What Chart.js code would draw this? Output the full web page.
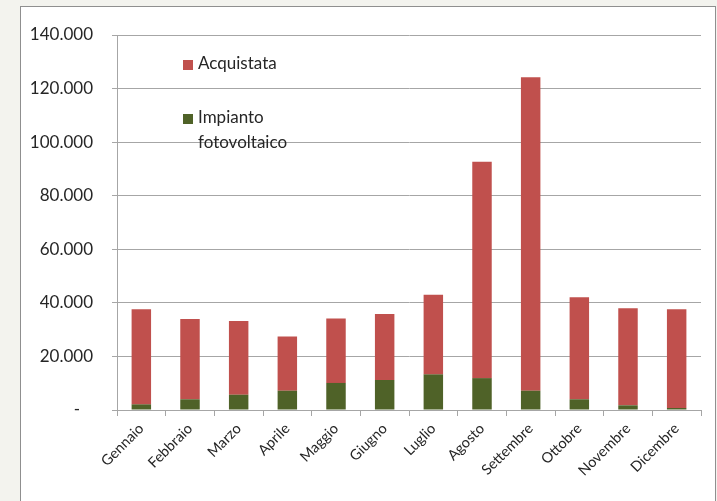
<!DOCTYPE html>
<html>
<head>
<meta charset="utf-8">
<script src="https://cdn.jsdelivr.net/npm/chart.js@4"></script>
<style>
  html, body { margin: 0; padding: 0; }
  body { width: 717px; height: 501px; background: #f3f3ee; position: relative; overflow: hidden; }
  #frame { position: absolute; left: 20px; top: 6px; width: 694px; height: 510px; background: #fff; border: 1px solid #8f8f8f; }
  #chart { position: absolute; left: 0; top: 0; }
</style>
</head>
<body>
<div id="frame"></div>
<canvas id="chart" width="717" height="501"></canvas>
<script>
const months = ['Gennaio', 'Febbraio', 'Marzo', 'Aprile', 'Maggio', 'Giugno', 'Luglio', 'Agosto', 'Settembre', 'Ottobre', 'Novembre', 'Dicembre'];
const fotovoltaico = [2100, 4000, 5700, 7200, 10100, 11200, 13300, 11900, 7200, 4000, 1750, 750];
const acquistata = [35500, 30000, 27500, 20200, 24100, 24600, 29700, 80800, 117000, 38100, 36250, 36850];

const RED = '#c0504d';
const GREEN = '#4f6228';
const FONT = 'Lato, "Open Sans", sans-serif';

const formatThousands = (value) => {
  if (value === 0) return '-   ';
  return String(value).replace(/\B(?=(\d{3})+(?!\d))/g, '.');
};

// legend drawn by hand so the second label can wrap like the original
const legendPlugin = {
  id: 'wrapLegend',
  afterDraw: (chart) => {
    const ctx = chart.ctx;
    ctx.save();
    ctx.font = '17px ' + FONT;
    ctx.textBaseline = 'middle';
    ctx.fillStyle = RED;
    ctx.fillRect(183, 60, 10, 10);
    ctx.fillStyle = GREEN;
    ctx.fillRect(183, 114, 10, 10);
    ctx.fillStyle = '#262626';
    ctx.fillText('Acquistata', 198, 64);
    ctx.fillText('Impianto', 198, 118);
    ctx.fillText('fotovoltaico', 198, 143);
    ctx.restore();
  },
};

new Chart(document.getElementById('chart'), {
  type: 'bar',
  data: {
    labels: months,
    datasets: [
      { label: 'Impianto fotovoltaico', data: fotovoltaico, backgroundColor: GREEN, barPercentage: 0.4, categoryPercentage: 1 },
      { label: 'Acquistata', data: acquistata, backgroundColor: RED, barPercentage: 0.4, categoryPercentage: 1 },
    ],
  },
  options: {
    responsive: false,
    animation: false,
    layout: { padding: { top: 35, right: 16, left: 0, bottom: 0 } },
    plugins: { legend: { display: false }, tooltip: { enabled: false } },
    scales: {
      x: {
        stacked: true,
        afterFit: (scale) => { scale.height = 91; },
        grid: { offset: true, drawOnChartArea: false, tickLength: 6, color: '#a6a6a6' },
        border: { color: '#a6a6a6' },
        ticks: { minRotation: 45, maxRotation: 45, padding: 4, color: '#262626', font: { family: FONT, size: 14.5 } },
      },
      y: {
        stacked: true,
        min: 0,
        max: 140000,
        afterFit: (scale) => { scale.width = 117; },
        grid: { color: '#a6a6a6', tickLength: 5 },
        border: { color: '#a6a6a6' },
        ticks: { stepSize: 20000, padding: 19, color: '#262626', font: { family: FONT, size: 17 }, callback: (v) => formatThousands(v) },
      },
    },
  },
  plugins: [legendPlugin],
});
</script>
</body>
</html>
